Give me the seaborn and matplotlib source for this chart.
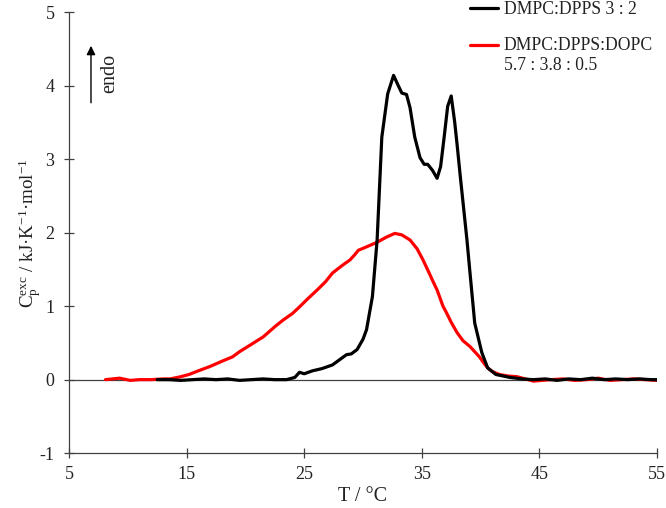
import matplotlib
matplotlib.use("Agg")
import matplotlib.pyplot as plt
import seaborn as sns
from matplotlib.legend_handler import HandlerLine2D

# -------------------------
# DATA
# -------------------------
t_black = [12.5, 13.5, 14.5, 15.5, 16.5, 17.5, 18.5, 19.5, 20.5, 21.5, 22.5, 23.5, 24.2,
           24.6, 25.0, 25.7, 26.5, 27.4, 28.0, 28.6, 29.0, 29.5, 30.0, 30.3, 30.8, 31.2,
           31.6, 32.1, 32.6, 33.0, 33.3, 33.7, 34.0, 34.4, 34.85, 35.2, 35.5, 35.9, 36.3,
           36.6, 36.9, 37.2, 37.5, 37.8, 38.0, 38.25, 38.84, 39.1, 39.5, 40.1, 40.6, 41.3,
           42.5, 43.5, 44.5, 45.5, 46.5, 47.5, 48.5, 49.5, 50.5, 51.5, 52.5, 53.5, 54.5, 55.0]
cp_black = [0.0, 0.0, -0.01, 0.0, 0.01, 0.0, 0.01, -0.01, 0.0, 0.01, 0.0, 0.0, 0.03,
            0.1, 0.08, 0.12, 0.15, 0.2, 0.27, 0.34, 0.35, 0.41, 0.55, 0.68, 1.13, 1.9,
            3.3, 3.89, 4.14, 4.0, 3.9, 3.88, 3.7, 3.3, 3.02, 2.93, 2.93, 2.85, 2.74,
            2.9, 3.3, 3.72, 3.86, 3.5, 3.2, 2.8, 1.9, 1.45, 0.77, 0.37, 0.16, 0.07,
            0.03, 0.01, 0.0, 0.01, -0.01, 0.01, 0.0, 0.02, 0.0, 0.01, 0.0, 0.01, 0.0, 0.0]

t_red = [8.1, 9.3, 10.2, 11.0, 12.0, 13.0, 13.6, 14.5, 15.2, 16.0, 17.0, 18.0, 18.9,
         19.5, 20.5, 21.5, 22.5, 23.2, 24.0, 24.6, 25.3, 26.1, 26.8, 27.4, 28.2, 28.9,
         29.3, 29.6, 30.2, 31.2, 32.0, 32.7, 33.3, 34.0, 34.6, 35.1, 35.6, 36.0, 36.3,
         36.8, 37.1, 37.5, 38.0, 38.5, 39.1, 39.5, 39.9, 40.3, 40.6, 41.0, 41.6, 42.3,
         43.1, 43.8, 44.5, 45.2, 46.0, 47.0, 48.0, 49.0, 50.0, 51.0, 52.0, 53.0, 54.0, 55.0]
cp_red = [0.0, 0.02, -0.01, 0.0, 0.0, 0.01, 0.01, 0.04, 0.07, 0.12, 0.18, 0.25, 0.31,
          0.38, 0.48, 0.58, 0.72, 0.81, 0.9, 0.99, 1.1, 1.22, 1.33, 1.45, 1.55, 1.63,
          1.7, 1.76, 1.8, 1.87, 1.94, 1.99, 1.97, 1.9, 1.78, 1.63, 1.46, 1.32, 1.22,
          1.0, 0.91, 0.78, 0.64, 0.53, 0.45, 0.38, 0.31, 0.22, 0.16, 0.11, 0.07, 0.05,
          0.04, 0.01, -0.02, -0.01, 0.0, 0.01, -0.01, 0.0, 0.02, -0.01, 0.0, 0.01, 0.0, -0.01]

x_ticks = [5, 15, 25, 35, 45, 55]
y_ticks = [-1, 0, 1, 2, 3, 4, 5]

label_black = "DMPC:DPPS 3 : 2"
label_red = "DMPC:DPPS:DOPC\n5.7 : 3.8 : 0.5"

# -------------------------
# STYLE
# -------------------------
sns.set_style("white")
plt.rcParams["font.family"] = ["Liberation Serif", "DejaVu Serif"]
plt.rcParams["mathtext.fontset"] = "custom"
plt.rcParams["mathtext.rm"] = "Liberation Serif"
plt.rcParams["mathtext.it"] = "Liberation Serif:italic"
plt.rcParams["axes.unicode_minus"] = False

axis_col = "#404040"
text_col = "#222222"


# legend handle drawn next to the first text line (Excel style)
class TopLine(HandlerLine2D):
    def create_artists(self, legend, orig_handle, xdescent, ydescent, width, height, fontsize, trans):
        arts = super().create_artists(legend, orig_handle, xdescent, ydescent, width, height, fontsize, trans)
        if "\n" in orig_handle.get_label():
            for a in arts:
                a.set_ydata([y + 0.6 * fontsize for y in a.get_ydata()])
        return arts


fig, ax = plt.subplots(figsize=(6.66, 5.08), dpi=100)
fig.subplots_adjust(left=0.1036, right=0.9865, top=0.976, bottom=0.108)

ax.axhline(0, color=axis_col, lw=0.9, zorder=1)
sns.lineplot(x=t_black, y=cp_black, color="black", lw=2.3, label=label_black, ax=ax, zorder=3)
sns.lineplot(x=t_red, y=cp_red, color="#ff0000", lw=2.3, label=label_red, ax=ax, zorder=2)

ax.set_xlim(5, 55)
ax.set_ylim(-1, 5)
ax.set_xticks(x_ticks)
ax.set_yticks(y_ticks)

for side in ["top", "right"]:
    ax.spines[side].set_visible(False)
for side in ["left", "bottom"]:
    ax.spines[side].set_color(axis_col)
    ax.spines[side].set_linewidth(0.9)

ax.tick_params(axis="both", direction="inout", length=7, width=0.9, color=axis_col,
               labelsize=13, labelcolor=text_col, left=True, bottom=True)
ax.tick_params(axis="y", pad=7)
ax.tick_params(axis="x", pad=6)

ax.set_xlabel("T / °C", fontsize=14.5, color=text_col, labelpad=3)
ax.set_ylabel(r"$\mathrm{C_p^{exc}}$ / kJ·K$^{\mathrm{-1}}$·mol$^{\mathrm{-1}}$",
              fontsize=13.7, color=text_col, labelpad=-3)

# endo arrow
ax.annotate("", xy=(6.87, 4.58), xytext=(6.87, 3.73),
            arrowprops=dict(arrowstyle="-|>", color="black", lw=1.0, mutation_scale=13))
ax.text(8.45, 4.16, "endo", rotation=90, fontsize=14.5, ha="center", va="center", color=text_col)

handles, labels = ax.get_legend_handles_labels()
leg = ax.legend(handles, labels, loc="upper left", bbox_to_anchor=(470 / 666, 0.998),
                bbox_transform=fig.transFigure, frameon=False, fontsize=12.7,
                handlelength=1.6, handletextpad=0.3, labelspacing=1.05, borderpad=0,
                borderaxespad=0, handler_map={type(handles[0]): TopLine()})
for t in leg.get_texts():
    t.set_color(text_col)
    t.set_linespacing(1.25)

plt.savefig("out.png", dpi=100)
plt.close()
